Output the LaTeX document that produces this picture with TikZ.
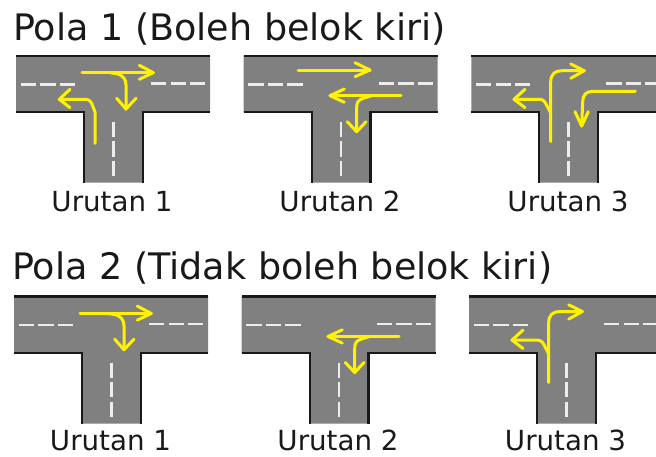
\documentclass[tikz,border=0pt]{standalone}
\usepackage{fontspec}
\setmainfont{DejaVu Sans}
\definecolor{roadgray}{HTML}{808080}
\definecolor{lanewhite}{HTML}{EDEDED}
\definecolor{roadyellow}{HTML}{FFF200}
\tikzset{
  road/.style={fill=roadgray,draw=none},
  edge/.style={draw=black!90,line width=2.2pt},
  lane/.style={draw=lanewhite,line width=2.4pt,dash pattern=on 15.3pt off 4.2pt},
  yarrow/.style={draw=roadyellow,line width=3pt,line join=round,line cap=round},
  titletext/.style={anchor=base west,inner sep=0pt,font=\fontsize{36.5}{42}\selectfont,text=black!90},
  captext/.style={anchor=base,inner sep=0pt,font=\fontsize{27.7}{32}\selectfont,text=black!90}
}
\newcommand{\junction}[2]{%
  \begin{scope}[shift={(#1,#2)}]
    \fill[road] (16,55.7) -- (210,55.7) -- (210,112.3) -- (142.7,112.3) -- (142.7,182.7) -- (84,182.7) -- (84,112.3) -- (16,112.3) -- cycle;
    \draw[edge] (16,55.7) -- (210,55.7);
    \draw[edge] (16,112.3) -- (84,112.3) -- (84,182.7);
    \draw[edge] (210,112.3) -- (142.7,112.3) -- (142.7,182.7);
    \draw[lane] (20.7,84.3) -- (76,84.3);
    \draw[lane] (151,83.3) -- (206,83.3);
    \draw[lane] (113.3,121.7) -- (113.3,176.5);
  \end{scope}}
\newcommand{\aOneThrough}{%
  \draw[yarrow] (82,72.7) -- (153.3,72.7);
  \draw[yarrow] (139.3,65.3) -- (153.3,72.7) -- (139.3,79.3);
  \draw[yarrow] (110,72.7) -- (118,74) .. controls (123,76) and (126,79) .. (126,85) -- (126,109);
  \draw[yarrow] (116.7,98.3) -- (126,109) -- (136,98.3);}
\newcommand{\aOneLeft}{%
  \draw[yarrow] (95,143.3) -- (95,112) -- (92,104) .. controls (90,100) and (88,99.3) .. (84,99.3) -- (59.3,99.3);
  \draw[yarrow] (70,89.3) -- (59.3,99.3) -- (70,107.7);}
\newcommand{\aTwoThrough}{%
  \draw[yarrow] (298,70) -- (370,70);
  \draw[yarrow] (355,62.7) -- (370,70) -- (355,76.7);}
\newcommand{\aTwoLeft}{%
  \draw[yarrow] (401,95.7) -- (330,95.7);
  \draw[yarrow] (344.3,89) -- (330,95.7) -- (344.3,102.3);
  \draw[yarrow] (371.7,95.7) -- (364,98) .. controls (358,100) and (356.7,102) .. (356.7,108) -- (356.7,131.7);
  \draw[yarrow] (347.3,121.7) -- (356.7,131.7) -- (366,121.7);}
\newcommand{\aThreeUp}{%
  \draw[yarrow] (550.7,141.7) -- (550.7,82) .. controls (550.7,74) and (555,70.7) .. (562,70.7) -- (584.3,70.7);
  \draw[yarrow] (570.7,64) -- (584.3,70.7) -- (570.7,78.3);
  \draw[yarrow] (550.7,113) -- (546,104) .. controls (544,100) and (542,99.3) .. (538,99.3) -- (514,99.3);
  \draw[yarrow] (525,89.3) -- (514,99.3) -- (525,107.7);}
\newcommand{\aThreeRight}{%
  \draw[yarrow] (635.3,91.3) -- (593,91.3) .. controls (586,91.3) and (582.7,95) .. (582.7,102) -- (581.7,126);
  \draw[yarrow] (575,111.7) -- (581.7,126) -- (588.3,111.7);}
\begin{document}
\begin{tikzpicture}[x=1pt,y=-1pt]
  \useasboundingbox (0,0) rectangle (656,456);
  \clip (0,0) rectangle (656,456);
  \node[titletext] (titleone) at (13,40) {Pola 1 (Boleh belok kiri)};
  \node[titletext] (titletwo) at (12,279) {Pola 2 (Tidak boleh belok kiri)};
  \junction{0}{0}
  \junction{227.7}{0}
  \junction{455.3}{0}
  \junction{-2}{240.8}
  \junction{225.7}{240.8}
  \junction{453}{240.8}
  \aOneThrough \aOneLeft
  \aTwoThrough \aTwoLeft
  \aThreeUp \aThreeRight
  \begin{scope}[shift={(-2,240.8)}]
    \aOneThrough \aTwoLeft \aThreeUp
  \end{scope}
  \node[captext] (ua) at (112,211) {Urutan 1};
  \node[captext] (ub) at (340,211) {Urutan 2};
  \node[captext] (uc) at (568,211) {Urutan 3};
  \node[captext] (ud) at (110.5,450) {Urutan 1};
  \node[captext] (ue) at (338,450) {Urutan 2};
  \node[captext] (uf) at (565.5,450) {Urutan 3};
\end{tikzpicture}
\end{document}
